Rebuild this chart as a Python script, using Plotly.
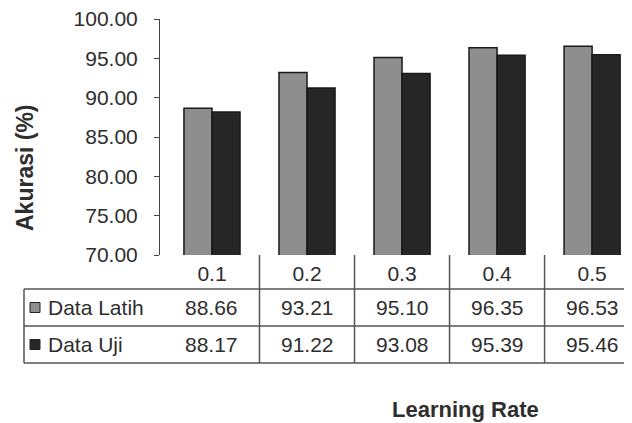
import plotly.graph_objects as go

categories = ["0.1", "0.2", "0.3", "0.4", "0.5"]
series_names = ["Data Latih", "Data Uji"]
data_latih = [88.66, 93.21, 95.10, 96.35, 96.53]
data_uji = [88.17, 91.22, 93.08, 95.39, 95.46]
y_ticks = [70, 75, 80, 85, 90, 95, 100]

OFF = 8  # page body margin of the browser
W, H = 632 - OFF, 423 - OFF
# plot area, in window pixels
L, R, T, B = 160, 632, 19, 255


def px(x):
    return (x - L) / (R - L)


def py(y):
    return (B - y) / (B - T)


TXT = "#2e2e2e"
FONT = "Liberation Sans, Arial, sans-serif"
colors = ["#8e8e8e", "#262626"]

fig = go.Figure()
for name, vals, col in zip(series_names, [data_latih, data_uji], colors):
    fig.add_trace(go.Bar(
        x=categories, y=vals, name=name,
        marker=dict(color=col, line=dict(color="#1a1a1a", width=1.5)),
        showlegend=False,
    ))

fig.update_layout(
    width=W, height=H, autosize=False,
    margin=dict(l=L - OFF, r=632 - R, t=T - OFF, b=423 - B, pad=0),
    paper_bgcolor="white", plot_bgcolor="white",
    barmode="group", bargap=0.41, bargroupgap=0,
    font=dict(family=FONT, size=21, color=TXT),
)
fig.update_yaxes(
    range=[70, 100], tickvals=y_ticks, tickformat=".2f",
    showgrid=False, zeroline=False,
    showline=True, linecolor="#444", linewidth=1,
    ticks="outside", ticklen=5, tickcolor="#444",
    ticklabelstandoff=12, ticklabeloverflow="allow",
    tickfont=dict(size=21, color=TXT),
)
fig.update_xaxes(
    type="category",
    range=[-0.547, 4.42], showgrid=False, zeroline=False, showline=False,
    ticks="", tickfont=dict(size=21, color=TXT), ticklabelstandoff=4,
    ticklabeloverflow="allow",
)

line_col = "#555"
# table horizontal lines
for yy in [289, 326, 363]:
    fig.add_shape(type="line", xref="paper", yref="paper",
                  x0=px(24), x1=px(640), y0=py(yy), y1=py(yy),
                  line=dict(color=line_col, width=1.5))
# left border
fig.add_shape(type="line", xref="paper", yref="paper",
              x0=px(24), x1=px(24), y0=py(289), y1=py(363),
              line=dict(color=line_col, width=1.5))
# column separators between categories
for i in range(len(categories) - 1):
    fig.add_shape(type="line", xref="x", yref="paper",
                  x0=i + 0.5, x1=i + 0.5, y0=py(255), y1=py(363),
                  line=dict(color=line_col, width=1.5))

row_y = [307.5, 344.5]
for name, vals, col, ry in zip(series_names, [data_latih, data_uji], colors, row_y):
    # legend square
    fig.add_shape(type="rect", xref="paper", yref="paper",
                  x0=px(30), x1=px(40), y0=py(ry - 5), y1=py(ry + 5),
                  fillcolor=col, line=dict(color="#222", width=1))
    fig.add_annotation(xref="paper", yref="paper", x=px(46), y=py(ry),
                       text=name, showarrow=False, xanchor="left", yanchor="middle",
                       font=dict(size=21, color=TXT))
    for i, v in enumerate(vals):
        fig.add_annotation(xref="x", yref="paper", x=i, y=py(ry),
                           text=f"{v:.2f}", showarrow=False,
                           xanchor="center", yanchor="middle",
                           font=dict(size=21, color=TXT))

fig.add_annotation(xref="paper", yref="paper", x=px(25), y=py(168),
                   text="<b>Akurasi (%)</b>", textangle=-90, showarrow=False,
                   xanchor="center", yanchor="middle",
                   font=dict(size=23, color=TXT))
fig.add_annotation(xref="paper", yref="paper", x=px(390), y=py(409),
                   text="<b>Learning Rate</b>", showarrow=False,
                   xanchor="left", yanchor="middle",
                   font=dict(size=22, color=TXT))

fig.write_html("out.html")
